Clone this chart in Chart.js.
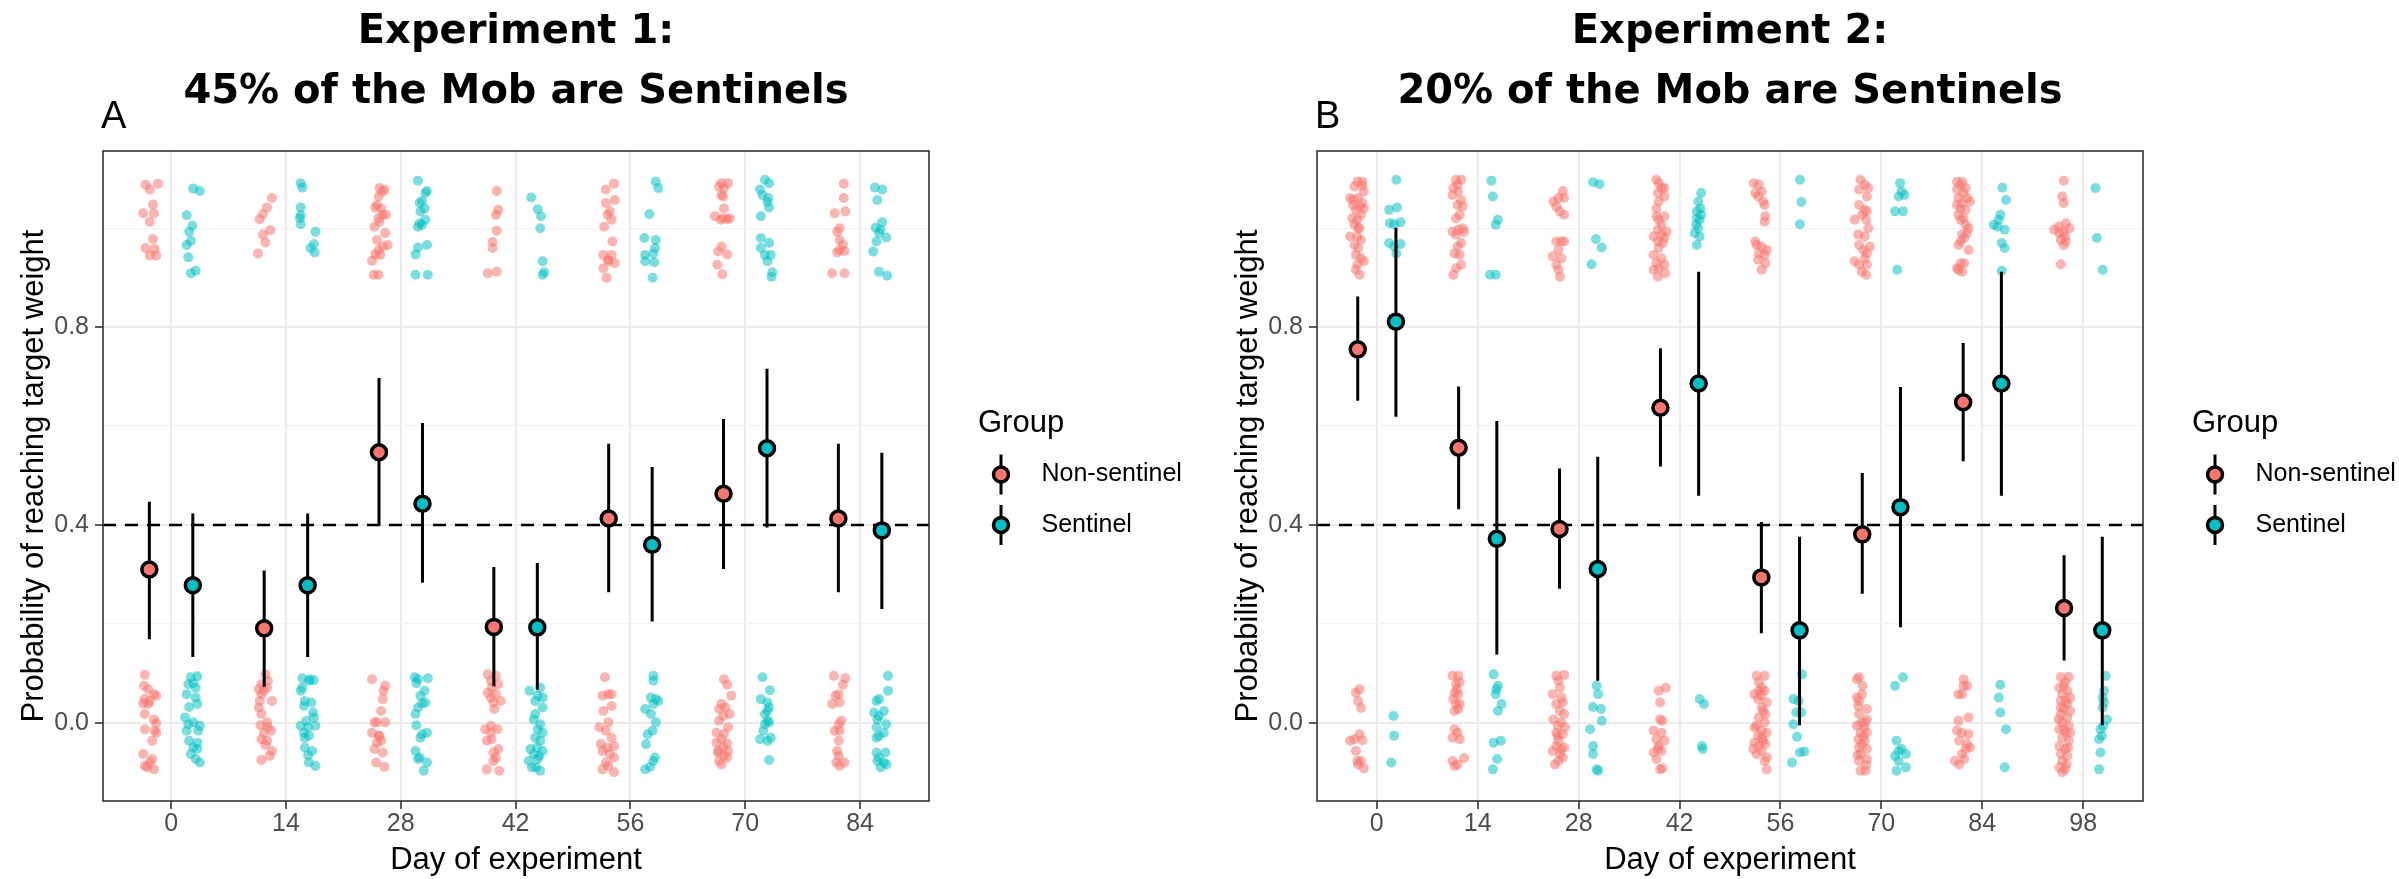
<!DOCTYPE html>
<html>
<head>
<meta charset="utf-8">
<script src="https://cdn.jsdelivr.net/npm/chart.js@4.4.1/dist/chart.umd.min.js"></script>
<style>
  html, body { margin: 0; padding: 0; background: #fff; }
  body { width: 2399px; height: 879px; position: relative; overflow: hidden; }
  canvas { position: absolute; top: 0; }
  #chartA { left: 0; }
  #chartB { left: 1200px; }
</style>
</head>
<body>
<canvas id="chartA" width="1200" height="879"></canvas>
<canvas id="chartB" width="1199" height="879"></canvas>
<script>
const groups = ['Non-sentinel', 'Sentinel'];
const fills = ['#F8766D', '#00BFC4'];
const jitterFills = ['rgba(248,118,109,0.55)', 'rgba(0,191,196,0.52)'];
const threshold = 0.4;
const yLimits = [-0.158, 1.156];
const yTicks = [0, 0.2, 0.4, 0.6, 0.8, 1.0];
const yLabelled = [0, 0.4, 0.8];
const dodge = 2.65;

// ---- Experiment 1 ----
const titleA = ['Experiment 1:', '45% of the Mob are Sentinels'];
const daysA = [0, 14, 28, 42, 56, 70, 84];
const xLimitsA = [-8.3, 92.4];
const meanNsA = [0.310, 0.191, 0.547, 0.194, 0.413, 0.463, 0.413];
const lowNsA  = [0.169, 0.073, 0.399, 0.074, 0.264, 0.311, 0.264];
const highNsA = [0.447, 0.308, 0.697, 0.315, 0.564, 0.614, 0.564];
const meanSA  = [0.278, 0.278, 0.443, 0.193, 0.360, 0.555, 0.389];
const lowSA   = [0.133, 0.133, 0.283, 0.067, 0.205, 0.395, 0.230];
const highSA  = [0.423, 0.423, 0.606, 0.323, 0.517, 0.716, 0.546];

// raw outcomes (0/1) with jitter, [day, value]
const jitterNsA = [
  // day 0
  [-3.1,1.088],[-2.6,1.078],[-1.6,1.09],[-2.2,1.048],[-3.4,1.03],[-2.1,1.03],[-2.6,1.013],[-2.2,0.978],[-3.1,0.96],[-2.0,0.958],[-2.6,0.945],[-1.8,0.945],
  [-3.2,0.097],[-3.3,0.075],[-2.8,0.068],[-2.1,0.058],[-1.8,0.055],[-3.2,0.048],[-2.6,0.044],[-3.4,0.039],[-2.8,0.038],[-3.2,0.018],[-2.1,0.007],[-1.8,-0.001],
  [-3.2,-0.013],[-2.0,-0.016],[-1.8,-0.02],[-2.3,-0.036],[-3.4,-0.063],[-2.3,-0.073],[-2.6,-0.08],[-3.2,-0.087],[-2.9,-0.09],[-2.1,-0.094],
  // day 14
  [12.3,1.061],[11.7,1.042],[11.2,1.028],[10.8,1.018],[12.1,0.996],[11.2,0.987],[11.5,0.971],[10.6,0.949],
  [11.5,0.098],[11.0,0.078],[11.7,0.071],[10.7,0.068],[11.0,0.058],[12.3,0.044],[10.8,0.044],[10.7,0.031],[11.0,0.018],[11.7,0.001],[11.8,-0.009],
  [12.2,-0.016],[11.3,-0.02],[11.0,-0.033],[11.7,-0.036],[12.3,-0.057],[12.0,-0.067],[11.0,-0.075],[11.3,0.065],[11.8,0.085],[10.9,-0.005],[11.5,-0.045],
  // day 28
  [25.4,1.081],[26.0,1.078],[25.8,1.074],[25.3,1.064],[25.1,1.047],[24.9,1.042],[25.6,1.04],[25.8,1.027],[26.2,1.027],[25.3,1.02],[25.4,1.013],
  [24.8,1.003],[26.1,0.99],[25.1,0.976],[26.4,0.966],[25.8,0.963],[25.3,0.956],[24.9,0.947],[25.5,0.946],[24.5,0.934],[24.7,0.906],[25.3,0.906],
  [24.5,0.088],[26.1,0.075],[25.9,0.065],[25.8,0.048],[25.6,0.024],[25.1,0.001],[26.1,0.001],[24.8,0.001],[24.5,-0.02],[25.4,-0.026],[25.6,-0.036],
  [25.1,-0.04],[24.8,-0.053],[25.8,-0.06],[25.0,-0.08],[26.0,-0.089],[25.3,-0.026],
  // day 42
  [39.7,1.075],[39.9,1.037],[39.6,1.027],[39.7,0.995],[39.2,0.972],[39.2,0.96],[38.6,0.909],[39.7,0.912],
  [38.6,0.098],[39.6,0.095],[39.0,0.085],[39.9,0.078],[39.1,0.071],[38.6,0.061],[39.6,0.058],[39.0,0.051],[40.2,0.044],[39.3,0.041],[39.4,0.028],
  [39.0,-0.006],[38.3,-0.013],[39.8,-0.013],[39.0,-0.02],[39.1,-0.033],[38.5,-0.036],[39.9,-0.053],[39.3,-0.06],[39.6,-0.07],[39.3,-0.077],[38.5,-0.094],[40.0,-0.097],
  // day 56
  [54.0,1.09],[53.0,1.078],[54.1,1.057],[53.0,1.051],[53.5,1.034],[53.2,1.027],[53.7,1.017],[52.8,1.003],[53.8,0.973],[52.7,0.946],[53.7,0.946],
  [53.3,0.936],[54.1,0.929],[52.7,0.919],[53.1,0.9],[53.3,0.933],
  [52.9,0.092],[52.6,0.055],[53.3,0.058],[53.7,0.034],[52.7,0.024],[52.2,-0.009],[53.3,0.001],[53.0,-0.016],[53.7,-0.03],[52.4,-0.043],[53.2,-0.05],
  [54.0,-0.047],[52.6,-0.057],[53.5,-0.063],[54.0,-0.07],[53.0,-0.08],[52.6,-0.094],[54.0,-0.1],[53.3,-0.087],[53.7,0.058],
  // day 70
  [67.1,1.091],[67.9,1.091],[66.8,1.084],[67.4,1.081],[67.1,1.067],[67.3,1.064],[67.4,1.04],[66.3,1.024],[67.3,1.02],[68.1,1.02],[67.0,1.017],
  [67.8,1.018],[67.1,0.963],[66.7,0.953],[67.8,0.947],[66.6,0.926],[67.2,0.907],
  [67.4,0.088],[67.8,0.077],[68.3,0.055],[67.1,0.038],[66.8,0.028],[67.6,0.031],[67.3,0.014],[68.1,0.018],[66.8,0.004],[67.9,-0.009],[66.5,-0.02],
  [67.4,-0.022],[67.1,-0.033],[66.5,-0.04],[67.8,-0.042],[67.3,-0.05],[66.7,-0.057],[67.9,-0.057],[67.4,-0.067],[66.8,-0.077],[67.8,-0.07],[67.1,-0.084],[66.7,-0.06],
  // day 84
  [82.0,1.09],[82.0,1.061],[80.9,1.03],[82.2,1.034],[81.5,1.0],[81.2,0.993],[81.5,0.976],[81.9,0.966],[81.2,0.951],[82.1,0.954],[80.6,0.909],[82.1,0.909],[81.5,0.956],
  [80.8,0.095],[82.2,0.09],[81.9,0.077],[81.4,0.058],[81.0,0.055],[80.6,0.038],[81.5,0.041],[81.7,0.004],[81.4,-0.003],[81.5,-0.016],[80.9,-0.016],
  [81.4,-0.036],[81.2,-0.057],[81.4,-0.067],[82.1,-0.08],[81.5,-0.087],[81.1,-0.08]
];
const jitterSA = [
  // day 0
  [2.7,1.08],[3.5,1.075],[1.9,1.026],[2.6,1.005],[2.2,0.993],[2.4,0.974],[1.9,0.966],[2.1,0.941],[2.4,0.909],[3.0,0.914],
  [2.4,0.092],[3.2,0.094],[2.1,0.078],[2.7,0.08],[3.0,0.071],[1.9,0.058],[3.0,0.051],[3.2,0.038],[2.2,0.032],[1.7,0.011],[2.7,0.001],[2.1,-0.003],
  [3.5,-0.006],[1.9,-0.016],[3.3,-0.016],[2.2,-0.036],[3.2,-0.04],[2.7,-0.05],[3.2,-0.053],[3.0,-0.073],[3.5,-0.08],[2.4,-0.063],
  // day 14
  [15.8,1.091],[16.0,1.082],[15.8,1.042],[15.8,1.026],[15.7,1.02],[15.8,1.008],[17.6,0.993],[17.4,0.968],[17.0,0.96],[17.5,0.951],
  [16.0,0.09],[16.9,0.088],[17.4,0.086],[16.8,0.085],[16.0,0.071],[15.8,0.065],[16.3,0.044],[17.1,0.041],[16.2,0.034],[17.3,0.021],[17.4,0.011],
  [16.5,0.004],[15.8,-0.006],[16.7,-0.009],[17.6,-0.006],[16.2,-0.02],[16.8,-0.026],[16.3,-0.03],[16.3,-0.05],[17.2,-0.057],[16.7,-0.065],[16.8,-0.08],[17.6,-0.087],
  // day 28
  [30.1,1.096],[31.2,1.075],[31.0,1.071],[30.6,1.055],[30.3,1.051],[30.9,1.04],[30.4,1.034],[31.0,1.017],[30.3,1.01],[30.6,1.007],[30.1,1.003],
  [31.2,0.966],[30.1,0.961],[29.8,0.947],[29.8,0.906],[31.3,0.906],
  [29.7,0.092],[30.1,0.088],[31.3,0.09],[29.9,0.08],[30.9,0.065],[31.0,0.041],[30.6,0.039],[30.1,0.031],[29.8,0.018],[30.6,-0.023],[31.2,-0.02],
  [30.4,-0.03],[29.8,-0.057],[30.3,-0.07],[31.2,-0.08],[30.8,-0.097],[30.1,-0.073],[30.4,0.055],[29.9,-0.005],
  // day 42
  [43.9,1.062],[44.7,1.038],[45.1,1.024],[45.0,1.0],[45.3,0.933],[45.5,0.911],[45.3,0.906],
  [43.7,0.065],[45.0,0.071],[44.7,0.055],[45.3,0.051],[44.4,0.044],[45.3,0.031],[44.4,0.018],[44.2,0.007],[45.0,-0.003],[44.7,-0.013],[45.3,-0.02],
  [44.4,-0.03],[45.0,-0.036],[44.6,-0.05],[43.8,-0.053],[45.3,-0.057],[44.2,-0.063],[44.9,-0.067],[43.6,-0.077],[44.7,-0.073],[44.0,-0.09],[45.0,-0.097],[44.5,-0.09],
  // day 56
  [59.1,1.094],[59.4,1.081],[58.3,1.028],[57.7,0.98],[59.1,0.976],[59.0,0.96],[58.8,0.949],[57.8,0.946],[57.8,0.933],[58.9,0.931],[58.7,0.9],
  [58.8,0.095],[58.8,0.085],[59.1,0.048],[58.5,0.051],[57.8,0.028],[59.4,0.044],[58.8,0.038],[58.5,0.018],[59.1,0.001],[58.7,-0.016],[58.1,-0.023],
  [57.9,-0.043],[59.0,-0.07],[58.4,-0.089],[57.8,-0.094],[58.8,-0.077],
  // day 70
  [72.4,1.098],[72.9,1.091],[71.8,1.078],[72.1,1.067],[72.8,1.061],[72.7,1.053],[72.9,1.042],[71.9,1.024],[71.9,0.98],[72.9,0.97],[71.9,0.96],
  [72.4,0.946],[73.1,0.946],[72.7,0.933],[73.3,0.911],[73.2,0.902],
  [72.1,0.092],[73.0,0.066],[71.9,0.048],[72.7,0.041],[72.9,0.031],[72.7,0.024],[72.4,0.018],[72.7,0.004],[72.4,-0.003],[72.9,0.001],[72.2,-0.016],
  [71.8,-0.033],[72.7,-0.036],[73.1,-0.03],[72.9,-0.075],
  // day 84
  [85.8,1.082],[86.7,1.078],[86.1,1.057],[86.7,1.012],[85.9,1.001],[86.5,0.997],[86.3,0.99],[87.2,0.981],[86.0,0.973],[85.6,0.953],[86.3,0.912],[87.3,0.904],
  [87.4,0.095],[87.4,0.065],[86.3,0.048],[86.0,0.044],[86.9,0.024],[85.7,0.021],[86.3,0.014],[86.1,0.007],[87.2,-0.003],[86.0,-0.009],[86.9,-0.02],
  [86.3,-0.026],[86.0,-0.03],[86.0,-0.06],[87.1,-0.06],[86.3,-0.07],[86.9,-0.08],[86.5,-0.09],[87.2,-0.084],[86.1,-0.077]
];

// ---- Experiment 2 ----
const titleB = ['Experiment 2:', '20% of the Mob are Sentinels'];
const daysB = [0, 14, 28, 42, 56, 70, 84, 98];
const xLimitsB = [-8.3, 106.3];
const meanNsB = [0.755, 0.556, 0.392, 0.637, 0.294, 0.381, 0.648, 0.232];
const lowNsB  = [0.651, 0.432, 0.271, 0.518, 0.181, 0.261, 0.529, 0.126];
const highNsB = [0.862, 0.680, 0.514, 0.757, 0.406, 0.505, 0.768, 0.339];
const meanSB  = [0.811, 0.372, 0.311, 0.686, 0.187, 0.436, 0.686, 0.187];
const lowSB   = [0.619, 0.138, 0.085, 0.459, -0.005, 0.193, 0.459, -0.005];
const highSB  = [1.001, 0.610, 0.538, 0.912, 0.376, 0.679, 0.912, 0.376];

const jitterNsB = [
  // day 0
  [-2.7,1.094],[-2.0,1.094],[-3.1,1.084],[-1.8,1.074],[-3.7,1.061],[-2.6,1.061],[-2.0,1.051],[-3.3,1.047],[-2.4,1.044],[-1.8,1.04],[-2.9,1.037],
  [-2.2,1.027],[-3.4,1.02],[-2.7,1.017],[-3.1,1.007],[-2.4,1.0],[-3.7,0.983],[-2.7,0.983],[-2.2,0.976],[-3.1,0.966],[-2.6,0.96],[-2.9,0.946],
  [-2.2,0.939],[-1.8,0.933],[-2.7,0.926],[-2.4,0.906],[-2.0,1.086],[-3.3,1.057],[-2.6,1.0],[-2.9,0.916],
  [-2.4,0.068],[-2.9,0.061],[-2.6,0.044],[-2.2,0.03],[-2.4,-0.023],[-3.1,-0.033],[-2.0,-0.035],[-3.7,-0.036],[-2.9,-0.057],[-2.7,-0.077],[-2.2,-0.077],
  [-1.8,-0.092],[-2.6,-0.084],
  // day 14
  [11.0,1.098],[11.7,1.098],[10.6,1.081],[11.3,1.074],[10.5,1.067],[11.7,1.057],[11.2,1.047],[11.9,1.044],[11.5,1.027],[11.0,1.02],[10.5,0.993],
  [11.3,0.997],[11.9,1.0],[11.0,0.987],[11.7,0.97],[11.2,0.963],[10.8,0.949],[11.5,0.946],[11.7,0.926],[11.0,0.919],[10.6,0.906],[11.2,1.088],[12.1,0.993],
  [10.5,0.095],[11.3,0.095],[11.0,0.078],[11.5,0.082],[10.8,0.061],[11.3,0.058],[11.0,0.038],[11.5,0.038],[10.8,0.024],[11.3,0.028],[10.8,-0.013],
  [11.2,-0.02],[10.5,-0.03],[11.5,-0.033],[10.5,-0.077],[11.2,-0.084],[12.1,-0.071],[10.8,-0.087],[11.1,0.068],[10.6,0.048],
  // day 28
  [25.8,1.075],[25.2,1.061],[26.0,1.061],[24.5,1.054],[24.9,1.044],[25.4,1.034],[26.0,1.027],[25.6,0.973],[24.9,0.973],[26.0,0.973],[25.2,0.956],
  [24.4,0.943],[25.6,0.939],[24.9,0.926],[25.2,0.916],[25.4,0.902],
  [24.9,0.095],[26.0,0.097],[25.2,0.085],[25.4,0.071],[24.4,0.058],[25.6,0.051],[24.9,0.038],[25.8,0.041],[25.4,0.024],[26.0,0.018],[24.5,0.007],
  [25.6,0.001],[25.1,-0.006],[26.1,-0.009],[24.9,-0.02],[25.8,-0.023],[25.2,-0.036],[24.4,-0.057],[26.0,-0.05],[24.9,-0.047],[25.4,-0.063],[25.8,-0.07],
  [24.7,-0.084],[25.2,-0.077],[25.6,-0.053],[25.1,-0.026],
  // day 42
  [38.8,1.098],[39.1,1.091],[39.5,1.081],[39.9,1.081],[39.0,1.071],[39.9,1.064],[39.1,1.054],[38.8,1.04],[38.8,1.024],[39.9,1.024],[39.1,1.017],
  [39.5,1.007],[39.0,0.997],[40.2,0.993],[38.4,0.983],[39.5,0.987],[39.0,0.973],[39.9,0.98],[39.7,0.97],[39.1,0.96],[38.4,0.946],[39.5,0.939],
  [38.8,0.929],[39.9,0.926],[39.1,0.919],[38.4,0.916],[40.0,0.909],[39.0,0.902],
  [39.1,0.065],[40.1,0.071],[39.3,0.041],[39.6,0.004],[39.3,0.007],[38.4,-0.016],[39.5,-0.02],[38.8,-0.033],[39.9,-0.036],[39.0,-0.053],[39.5,-0.057],
  [38.4,-0.06],[38.8,-0.073],[39.3,-0.094],[39.6,-0.092],[39.1,-0.047],
  // day 56
  [52.3,1.091],[53.0,1.088],[52.5,1.071],[53.4,1.074],[52.9,1.064],[53.6,1.054],[53.8,1.047],[53.9,1.024],[53.8,1.013],[52.5,0.973],[53.4,0.963],
  [54.1,0.956],[53.0,0.949],[53.8,0.946],[52.9,0.936],[53.9,0.929],[53.4,0.916],[52.7,0.966],
  [52.7,0.095],[53.8,0.095],[53.0,0.082],[53.4,0.071],[52.4,0.058],[53.8,0.065],[52.9,0.048],[54.1,0.041],[53.4,0.031],[53.9,0.018],[53.0,0.011],
  [53.8,0.001],[52.4,-0.009],[53.4,-0.016],[54.1,-0.02],[52.9,-0.026],[53.6,-0.036],[52.4,-0.04],[53.9,-0.043],[52.2,-0.053],[53.4,-0.057],[52.7,-0.063],
  [54.1,-0.07],[53.8,-0.077],[54.1,-0.094],[53.0,0.065],[53.3,0.055],[53.6,0.024],[52.7,-0.006],[53.4,-0.03],[53.0,-0.047],
  // day 70
  [67.1,1.098],[67.7,1.088],[66.9,1.078],[68.2,1.081],[68.0,1.064],[66.9,1.047],[67.7,1.037],[68.0,1.034],[67.3,1.027],[66.3,1.017],[67.9,1.017],
  [68.2,1.0],[66.8,0.987],[67.7,0.983],[68.4,0.963],[66.9,0.966],[68.0,0.949],[67.7,0.939],[66.3,0.933],[66.9,0.926],[68.0,0.926],[67.3,0.912],
  [67.9,0.906],[67.5,0.956],
  [66.6,0.088],[66.9,0.092],[67.3,0.058],[66.6,0.051],[66.8,0.034],[68.0,0.028],[66.9,0.018],[68.0,0.007],[66.6,-0.006],[67.7,-0.009],[67.1,-0.02],
  [68.0,-0.02],[66.8,-0.033],[67.7,-0.036],[66.9,-0.05],[68.0,-0.053],[67.1,-0.063],[68.0,-0.073],[66.9,-0.077],[67.8,-0.097],[67.1,-0.097],[67.5,-0.026],
  [67.3,-0.043],[67.7,0.001],[66.9,0.044],[67.4,0.075],[66.7,-0.065],[67.9,-0.085],[67.2,0.0],
  // day 84
  [80.5,1.094],[81.2,1.094],[81.0,1.088],[81.7,1.081],[80.5,1.078],[81.4,1.071],[80.7,1.061],[81.9,1.061],[81.2,1.051],[82.3,1.054],[81.0,1.04],
  [81.7,1.037],[80.7,1.027],[81.4,1.02],[81.0,1.017],[81.7,1.007],[82.1,1.0],[81.2,0.987],[81.9,0.99],[81.0,0.973],[80.7,0.966],[82.1,0.956],
  [81.0,0.929],[81.5,0.929],[80.5,0.919],[81.2,0.912],[80.7,0.916],[81.5,0.98],[80.5,1.047],
  [81.4,0.088],[81.9,0.075],[80.7,0.058],[81.2,0.058],[80.7,0.004],[82.1,0.011],[80.5,-0.016],[81.2,-0.02],[82.1,-0.023],[80.8,-0.036],[82.3,-0.05],
  [81.7,-0.053],[81.2,-0.063],[81.5,-0.073],[80.8,-0.084],[80.2,-0.077],[81.9,-0.043],[81.4,0.075],
  // day 98
  [95.3,1.096],[95.1,1.064],[95.3,1.051],[95.6,1.01],[94.6,1.003],[96.1,1.0],[94.0,0.997],[95.3,0.993],[94.7,0.99],[95.5,0.983],[94.9,0.976],
  [95.6,0.973],[95.3,0.966],[94.9,0.927],
  [94.9,0.092],[96.0,0.093],[95.5,0.082],[94.7,0.071],[95.8,0.065],[95.1,0.058],[96.2,0.051],[94.9,0.044],[95.8,0.038],[95.3,0.028],[96.2,0.024],
  [94.9,0.018],[95.8,0.011],[95.1,0.001],[96.0,-0.006],[94.7,-0.013],[95.6,-0.02],[95.1,-0.03],[96.0,-0.036],[94.7,-0.047],[95.5,-0.053],[95.8,-0.067],
  [95.1,-0.077],[94.7,-0.09],[95.5,-0.094],[95.1,-0.1],[96.2,-0.02],[95.6,0.044],[95.3,0.075],[94.9,0.031],[95.9,-0.05],[94.9,-0.063],[95.7,-0.084],
  [95.3,-0.013],[94.6,0.007]
];
const jitterSB = [
  // day 0
  [2.7,1.098],[1.7,1.037],[2.8,1.042],[1.8,1.01],[3.3,1.012],[2.4,1.008],[1.7,0.97],[3.3,0.968],[2.4,0.963],[2.7,0.949],
  [2.3,0.014],[2.4,-0.026],[2.0,-0.08],
  // day 14
  [15.9,1.096],[16.1,1.064],[16.8,1.017],[16.5,1.007],[15.7,0.906],[16.5,0.906],
  [16.2,0.098],[16.8,0.075],[16.5,0.058],[17.3,0.038],[16.8,0.024],[17.2,-0.036],[16.2,-0.04],[16.7,-0.073],[16.1,-0.094],[16.6,0.068],
  // day 28
  [30.0,1.093],[30.9,1.089],[30.4,0.978],[31.2,0.961],[29.8,0.927],
  [30.5,0.075],[30.7,0.058],[30.0,0.032],[31.1,0.028],[31.2,0.004],[29.6,-0.013],[30.0,-0.047],[30.0,-0.063],[30.7,-0.097],[30.5,-0.094],
  // day 42
  [45.0,1.071],[44.6,1.054],[44.9,1.04],[44.4,1.034],[45.0,1.027],[44.4,1.02],[44.8,1.017],[44.3,1.007],[44.6,1.0],[44.1,0.99],[44.8,0.983],[44.4,0.966],
  [44.8,0.048],[45.4,0.038],[45.1,-0.047],[45.2,-0.053],
  // day 56
  [58.7,1.098],[58.9,1.053],[58.7,1.008],
  [59.0,0.098],[57.8,0.048],[58.5,0.044],[58.9,0.021],[58.2,0.021],[57.8,-0.003],[58.3,-0.028],[58.7,-0.06],[59.3,-0.058],[57.6,-0.08],
  // day 70
  [72.6,1.091],[72.8,1.074],[72.4,1.064],[73.2,1.067],[71.9,1.034],[73.0,1.034],[72.2,0.916],
  [73.0,0.092],[71.9,0.075],[72.1,-0.036],[72.8,-0.053],[73.4,-0.063],[71.9,-0.067],[72.4,-0.077],[73.4,-0.09],[72.1,-0.097],[72.4,-0.057],
  // day 84
  [86.8,1.082],[87.3,1.057],[86.5,1.027],[85.6,1.007],[86.1,1.003],[87.1,0.997],[86.7,0.97],[87.1,0.96],[86.7,0.914],[86.3,1.017],
  [86.5,0.077],[86.3,0.051],[86.5,0.021],[87.3,-0.013],[87.1,-0.09],
  // day 98
  [99.7,1.081],[99.9,0.98],[100.7,0.916],
  [101.1,0.095],[100.9,0.065],[100.7,0.051],[100.9,0.041],[100.7,0.031],[101.3,0.007],[100.8,-0.006],[100.4,-0.013],[100.6,-0.026],[100.2,-0.033],
  [100.4,-0.06],[100.2,-0.094]
];

// title, tag, panel border and the group legend
const panelDecor = {
  id: 'panelDecor',
  afterDraw(chart, args, opts) {
    const { ctx, chartArea: a } = chart;
    ctx.save();
    ctx.strokeStyle = '#333333';
    ctx.lineWidth = 1.6;
    ctx.strokeRect(a.left, a.top, a.right - a.left, a.bottom - a.top);

    const cx = (a.left + a.right) / 2;
    ctx.fillStyle = '#000';
    ctx.textAlign = 'center';
    ctx.textBaseline = 'alphabetic';
    ctx.font = 'bold 40px "DejaVu Sans"';
    ctx.fillText(opts.title[0], cx, 43);
    ctx.fillText(opts.title[1], cx, 103);

    ctx.textAlign = 'left';
    ctx.font = '38px "Liberation Sans"';
    ctx.fillText(opts.tag, a.left - 2, 128);

    const lx = a.right + 49;
    const cy = (a.top + a.bottom) / 2;
    ctx.textBaseline = 'middle';
    ctx.font = '31px "Liberation Sans"';
    ctx.fillText('Group', lx, cy - 53);
    ctx.font = '25px "Liberation Sans"';
    groups.forEach((g, i) => {
      const ky = cy - 1.5 + i * 50.5;
      const kx = lx + 23;
      ctx.strokeStyle = '#000';
      ctx.lineWidth = 3;
      ctx.beginPath();
      ctx.moveTo(kx, ky - 20);
      ctx.lineTo(kx, ky + 20);
      ctx.stroke();
      ctx.beginPath();
      ctx.arc(kx, ky, 7.5, 0, Math.PI * 2);
      ctx.fillStyle = fills[i];
      ctx.fill();
      ctx.lineWidth = 3.5;
      ctx.stroke();
      ctx.fillStyle = '#000';
      ctx.fillText(g, lx + 63.5, ky);
    });
    ctx.restore();
  }
};

function errorBars(days, low, high, shift) {
  const pts = [];
  days.forEach((d, i) => {
    pts.push({ x: d + shift, y: low[i] }, { x: d + shift, y: high[i] }, { x: d + shift, y: null });
  });
  return pts;
}

function makePanel(id, p) {
  const jit = [p.jitterNs, p.jitterS];
  const means = [p.meanNs, p.meanS];
  const lows = [p.lowNs, p.lowS];
  const highs = [p.highNs, p.highS];
  const shifts = [-dodge, dodge];
  const datasets = [];
  [0, 1].forEach(g => {
    datasets.push({
      label: groups[g] + ' raw',
      data: jit[g].map(([x, y]) => ({ x, y })),
      pointRadius: 5, pointBackgroundColor: jitterFills[g], pointBorderWidth: 0,
      showLine: false, order: 5
    });
  });
  datasets.push({
    label: 'threshold',
    data: [{ x: p.xLimits[0], y: threshold }, { x: p.xLimits[1], y: threshold }],
    showLine: true, borderColor: '#000', borderWidth: 2.4, borderDash: [13, 9],
    pointRadius: 0, order: 4
  });
  [0, 1].forEach(g => {
    datasets.push({
      label: groups[g] + ' CI',
      data: errorBars(p.days, lows[g], highs[g], shifts[g]),
      showLine: true, spanGaps: false, borderColor: '#000', borderWidth: 3,
      borderCapStyle: 'butt', pointRadius: 0, order: 3
    });
  });
  [0, 1].forEach(g => {
    datasets.push({
      label: groups[g],
      data: p.days.map((d, i) => ({ x: d + shifts[g], y: means[g][i] })),
      pointRadius: 7.5, pointBackgroundColor: fills[g], pointBorderColor: '#000',
      pointBorderWidth: 3.5, showLine: false, order: 1
    });
  });

  const tickFont = { family: 'Liberation Sans', size: 25 };
  const titleFont = { family: 'Liberation Sans', size: 31 };

  new Chart(document.getElementById(id), {
    type: 'scatter',
    data: { datasets },
    options: {
      responsive: false,
      animation: false,
      devicePixelRatio: 1,
      layout: { padding: { left: p.padLeft, right: p.padRight, top: 151, bottom: 0 } },
      plugins: {
        legend: { display: false },
        tooltip: { enabled: false },
        panelDecor: { title: p.title, tag: p.tag }
      },
      scales: {
        x: {
          type: 'linear',
          min: p.xLimits[0], max: p.xLimits[1],
          afterBuildTicks: s => { s.ticks = p.days.map(v => ({ value: v })); },
          afterFit: s => { s.height = 78; },
          border: { display: false },
          grid: { color: '#EBEBEB', lineWidth: 2, tickColor: '#333333', tickLength: 8, tickWidth: 1.6 },
          ticks: { color: '#4D4D4D', font: tickFont, padding: 0, autoSkip: false, maxRotation: 0, callback: v => String(v) },
          title: { display: true, text: 'Day of experiment', color: '#000', font: titleFont, padding: 0 }
        },
        y: {
          type: 'linear',
          min: yLimits[0], max: yLimits[1],
          afterBuildTicks: s => { s.ticks = yTicks.map(v => ({ value: v })); },
          afterFit: s => { s.width = 103; },
          border: { display: false },
          grid: {
            color: c => yLabelled.includes(c.tick.value) ? '#EBEBEB' : '#F2F2F2',
            lineWidth: c => yLabelled.includes(c.tick.value) ? 2 : 1.2,
            tickColor: c => yLabelled.includes(c.tick.value) ? '#333333' : 'rgba(0,0,0,0)',
            tickLength: 8, tickWidth: 1.6
          },
          ticks: {
            color: '#4D4D4D', font: tickFont, padding: 6, autoSkip: false,
            callback: v => yLabelled.includes(v) ? v.toFixed(1) : ''
          },
          title: { display: true, text: 'Probability of reaching target weight', color: '#000', font: titleFont, padding: { top: 16, bottom: 0 } }
        }
      }
    },
    plugins: [panelDecor]
  });
}

makePanel('chartA', {
  title: titleA, tag: 'A', days: daysA, xLimits: xLimitsA, padLeft: 0, padRight: 271,
  meanNs: meanNsA, lowNs: lowNsA, highNs: highNsA, meanS: meanSA, lowS: lowSA, highS: highSA,
  jitterNs: jitterNsA, jitterS: jitterSA
});
makePanel('chartB', {
  title: titleB, tag: 'B', days: daysB, xLimits: xLimitsB, padLeft: 14, padRight: 256,
  meanNs: meanNsB, lowNs: lowNsB, highNs: highNsB, meanS: meanSB, lowS: lowSB, highS: highSB,
  jitterNs: jitterNsB, jitterS: jitterSB
});
</script>
</body>
</html>
